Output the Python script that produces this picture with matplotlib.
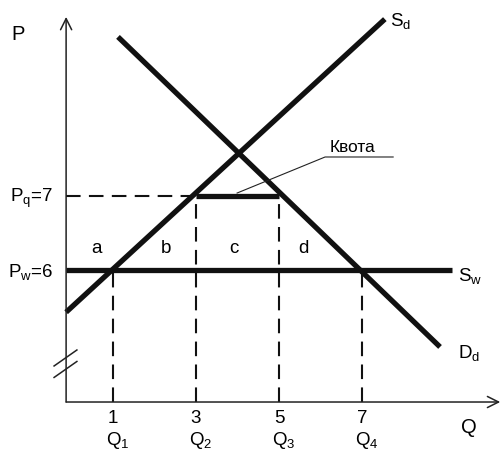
import numpy as np
import matplotlib
matplotlib.use('Agg')
import matplotlib.pyplot as plt

plt.rcParams['font.family'] = ['Liberation Sans', 'DejaVu Sans']

# market data
p_world = 6
p_quota = 7
q_ticks = [1, 3, 5, 7]
q_names = ['Q$_\\mathregular{1}$', 'Q$_\\mathregular{2}$', 'Q$_\\mathregular{3}$', 'Q$_\\mathregular{4}$']
sd_q = [-0.13, 7.55]
sd_p = [5.43, 9.39]
dd_q = [1.12, 8.88]
dd_p = [9.15, 4.96]
sw_q = [-0.13, 9.17]
quota_q = [3, 5]
area_names = ['a', 'b', 'c', 'd']
area_q = [0.61, 2.28, 3.92, 5.6]

# axis frame (data units)
x0, y0 = -0.13, 4.216
x_end, y_end = 10.33, 9.42

fig = plt.figure(figsize=(5.02, 4.52), dpi=100)
ax = fig.add_axes([0, 0, 1, 1])
ax.set_xlim(-1.723, 10.373)
ax.set_ylim(3.554, 9.662)
ax.axis('off')

fs = 13.5
thick = dict(color='#111111', lw=3.8, solid_capstyle='butt')
dash = dict(color='#111111', lw=1.5, linestyle=(0, (7, 4)))

# axes with open arrow heads
arr = dict(arrowstyle='->', lw=1.1, mutation_scale=20, shrinkA=0, shrinkB=0, color='#222222')
ax.annotate('', xy=(x0, y_end), xytext=(x0, y0), arrowprops=arr)
ax.annotate('', xy=(x_end, y0), xytext=(x0, y0), arrowprops=arr)

# axis break marks
for dy in [0.0, -0.155]:
    ax.plot([x0 - 0.29, x0 + 0.26], [4.703 + dy, 4.919 + dy], color='#222222', lw=1.1)

# dashed guides
ax.plot([x0, quota_q[0]], [p_quota, p_quota], **dash)
for q in q_ticks:
    top = p_quota if q in quota_q else p_world
    ax.plot([q, q], [y0, top], **dash)

# curves
ax.plot(sw_q, [p_world, p_world], **thick)
ax.plot(sd_q, sd_p, **thick)
ax.plot(dd_q, dd_p, **thick)
ax.plot(quota_q, [p_quota, p_quota], **thick)

# quota leader line
ax.plot([7.75, 6.11, 3.99], [7.527, 7.527, 7.04], color='#222222', lw=0.8)
ax.text(6.76, 7.61, 'Квота', fontsize=fs - 1, ha='center', va='baseline')

# labels
ax.text(-1.29, 9.2, 'P', fontsize=fs + 1, ha='center', va='center')
ax.text(-0.446, 6.93, 'P$_\\mathregular{q}$=7', fontsize=fs, ha='right', va='baseline')
ax.text(-0.446, 5.905, 'P$_\\mathregular{w}$=6', fontsize=fs, ha='right', va='baseline')
ax.text(9.58, 3.81, 'Q', fontsize=fs + 1, ha='center', va='baseline')
ax.text(7.67, 9.297, 'S$_\\mathregular{d}$', fontsize=fs, ha='left', va='baseline')
ax.text(9.31, 5.85, 'S$_\\mathregular{w}$', fontsize=fs, ha='left', va='baseline')
ax.text(9.31, 4.82, 'D$_\\mathregular{d}$', fontsize=fs, ha='left', va='baseline')

for q, name in zip(q_ticks, q_names):
    ax.text(q, 3.946, str(q), fontsize=fs, ha='center', va='baseline')
    ax.text(q - 0.17, 3.65, name, fontsize=fs, ha='left', va='baseline')

for q, name in zip(area_q, area_names):
    ax.text(q, 6.243, name, fontsize=fs, ha='center', va='baseline')

fig.savefig('out.png', dpi=100)
